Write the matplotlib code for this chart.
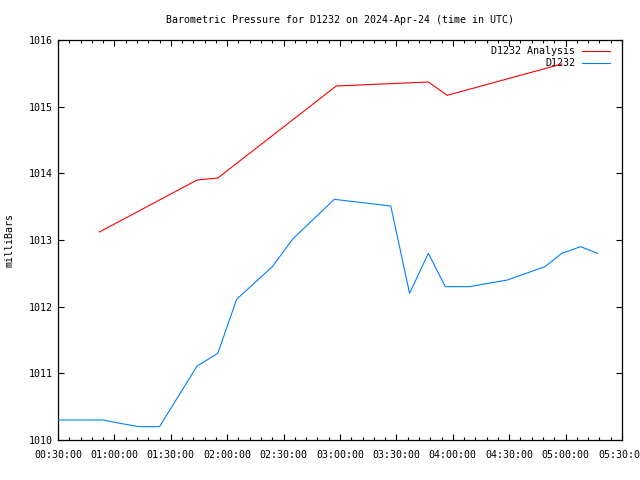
import matplotlib
matplotlib.use("Agg")
import matplotlib.pyplot as plt
import matplotlib.dates as mdates
import pandas as pd

day = "2024-04-24 "

# D1232 Analysis (red)
analysis_times = ["00:52", "01:44", "01:55", "02:58", "03:47", "03:57", "04:58"]
analysis_vals = [1013.12, 1013.90, 1013.93, 1015.31, 1015.37, 1015.17, 1015.64]

# D1232 observations (blue)
obs_times = ["00:30", "00:54", "01:03", "01:13", "01:24", "01:44", "01:55", "02:05",
             "02:24", "02:35", "02:57", "03:27", "03:37", "03:47", "03:56", "04:09",
             "04:29", "04:49", "04:58", "05:08", "05:17"]
obs_vals = [1010.30, 1010.30, 1010.25, 1010.20, 1010.20, 1011.11, 1011.30, 1012.11,
            1012.60, 1013.02, 1013.61, 1013.51, 1012.20, 1012.80, 1012.30, 1012.30,
            1012.40, 1012.60, 1012.80, 1012.90, 1012.80]

plt.rcParams['font.family'] = ['DejaVu Sans Mono']
plt.rcParams['font.size'] = 7.2

t_an = pd.to_datetime([day + t for t in analysis_times])
t_ob = pd.to_datetime([day + t for t in obs_times])

fig = plt.figure(figsize=(6.4, 4.8), dpi=100)
ax = fig.add_axes([58/640, 40/480, 564/640, 400/480])

ax.plot(t_an, analysis_vals, color='#ff0000', lw=0.8, label='D1232 Analysis', zorder=3)
ax.plot(t_ob, obs_vals, color='#0080ff', lw=0.8, label='D1232', zorder=3)

ax.set_xlim(pd.Timestamp(day + "00:30"), pd.Timestamp(day + "05:30"))
ax.set_ylim(1010, 1016)
ax.set_yticks(range(1010, 1017))

ax.xaxis.set_major_locator(mdates.MinuteLocator(byminute=[0, 30]))
ax.xaxis.set_minor_locator(mdates.MinuteLocator(byminute=range(0, 60, 6)))
ax.xaxis.set_major_formatter(mdates.DateFormatter('%H:%M:%S'))

ax.tick_params(which='both', direction='in', top=True, right=True, color='black')
ax.tick_params(which='major', length=4.5, width=0.8, pad=7)
ax.tick_params(axis='y', which='major', pad=4)
ax.tick_params(which='minor', length=2.3, width=0.8)
for s in ax.spines.values():
    s.set_linewidth(0.9)

ax.set_title("Barometric Pressure for D1232 on 2024-Apr-24 (time in UTC)",
             fontsize=7.2, pad=12)
ax.set_ylabel("milliBars", labelpad=10)

leg = ax.legend(loc='upper right', bbox_to_anchor=(1.0, 1.0 + 6/400),
                markerfirst=False, frameon=False, handlelength=2.8,
                handletextpad=0.7, labelspacing=0.25, borderaxespad=0.8)
leg.set_zorder(2)

fig.savefig("out.png", dpi=100)
